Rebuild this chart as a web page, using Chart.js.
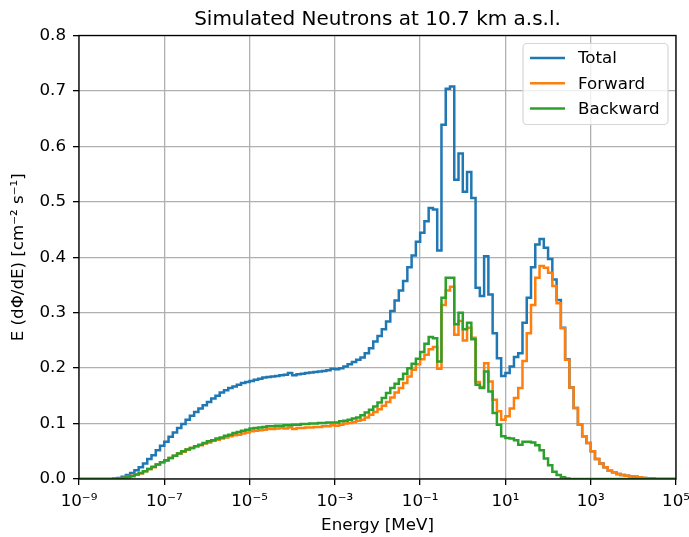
<!DOCTYPE html>
<html>
<head>
<meta charset="utf-8">
<title>Simulated Neutrons</title>
<script src="https://cdn.jsdelivr.net/npm/chart.js@4"></script>
<style>
  html, body { margin: 0; padding: 0; background: #fff; }
  canvas { display: block; }
</style>
</head>
<body>
<canvas id="spectrum" width="689" height="537"></canvas>
<script>
// 10 bins per decade, 1e-9 .. 1e5 MeV
const firstDecade = -9;
const lastDecade = 5;
const binsPerDecade = 10;

// E dPhi/dE per bin [cm^-2 s^-1], one row per decade
const totalFlux = [
    0, 0, 0, 0, 0, 0, 0, 0, 0.001, 0.002,
    0.004, 0.007, 0.011, 0.016, 0.021, 0.028, 0.036, 0.043, 0.052, 0.060,
    0.067, 0.076, 0.084, 0.092, 0.099, 0.107, 0.114, 0.121, 0.127, 0.133,
    0.139, 0.145, 0.150, 0.156, 0.160, 0.164, 0.167, 0.170, 0.173, 0.175,
    0.177, 0.179, 0.181, 0.183, 0.184, 0.185, 0.186, 0.187, 0.188, 0.191,
    0.187, 0.189, 0.190, 0.191, 0.192, 0.193, 0.194, 0.195, 0.196, 0.199,
    0.198, 0.200, 0.203, 0.207, 0.211, 0.215, 0.219, 0.227, 0.236, 0.248,
    0.258, 0.270, 0.284, 0.303, 0.322, 0.340, 0.357, 0.382, 0.403, 0.428,
    0.444, 0.465, 0.489, 0.486, 0.412, 0.639, 0.704, 0.708, 0.540, 0.587,
    0.518, 0.554, 0.507, 0.345, 0.330, 0.402, 0.333, 0.263, 0.218, 0.186,
    0.191, 0.203, 0.220, 0.227, 0.282, 0.327, 0.382, 0.423, 0.433, 0.417,
    0.397, 0.360, 0.323, 0.273, 0.216, 0.165, 0.128, 0.098, 0.077, 0.065,
    0.050, 0.036, 0.028, 0.021, 0.015, 0.012, 0.009, 0.007, 0.006, 0.005,
    0.004, 0.003, 0.002, 0.001, 0.001, 0, 0, 0, 0, 0,
];

const forwardFlux = [
    0, 0, 0, 0, 0, 0, 0, 0, 0, 0.001,
    0.002, 0.004, 0.006, 0.008, 0.010, 0.014, 0.018, 0.021, 0.026, 0.030,
    0.033, 0.038, 0.042, 0.046, 0.049, 0.053, 0.056, 0.059, 0.061, 0.064,
    0.066, 0.069, 0.071, 0.073, 0.075, 0.077, 0.079, 0.080, 0.082, 0.084,
    0.086, 0.087, 0.088, 0.089, 0.090, 0.090, 0.091, 0.092, 0.091, 0.093,
    0.090, 0.092, 0.092, 0.093, 0.093, 0.094, 0.094, 0.095, 0.095, 0.097,
    0.096, 0.098, 0.100, 0.101, 0.103, 0.105, 0.107, 0.111, 0.116, 0.121,
    0.126, 0.132, 0.139, 0.147, 0.156, 0.164, 0.173, 0.185, 0.197, 0.207,
    0.216, 0.224, 0.234, 0.238, 0.199, 0.314, 0.340, 0.347, 0.260, 0.285,
    0.250, 0.273, 0.255, 0.175, 0.166, 0.209, 0.176, 0.143, 0.122, 0.107,
    0.113, 0.127, 0.146, 0.164, 0.213, 0.263, 0.314, 0.363, 0.384, 0.381,
    0.372, 0.348, 0.317, 0.272, 0.215, 0.165, 0.128, 0.098, 0.077, 0.065,
    0.050, 0.036, 0.028, 0.021, 0.015, 0.012, 0.009, 0.007, 0.006, 0.005,
    0.004, 0.003, 0.002, 0.001, 0.001, 0, 0, 0, 0, 0,
];

const backwardFlux = [
    0, 0, 0, 0, 0, 0, 0, 0, 0, 0.001,
    0.002, 0.003, 0.005, 0.008, 0.011, 0.014, 0.018, 0.022, 0.026, 0.030,
    0.034, 0.038, 0.042, 0.046, 0.050, 0.053, 0.056, 0.059, 0.062, 0.065,
    0.068, 0.070, 0.073, 0.075, 0.078, 0.080, 0.083, 0.085, 0.087, 0.089,
    0.091, 0.092, 0.093, 0.094, 0.095, 0.095, 0.096, 0.096, 0.097, 0.097,
    0.098, 0.098, 0.099, 0.099, 0.100, 0.100, 0.101, 0.101, 0.102, 0.102,
    0.102, 0.104, 0.105, 0.107, 0.109, 0.111, 0.115, 0.120, 0.125, 0.131,
    0.138, 0.146, 0.155, 0.164, 0.172, 0.180, 0.190, 0.200, 0.208, 0.217,
    0.229, 0.244, 0.256, 0.254, 0.212, 0.327, 0.363, 0.363, 0.279, 0.300,
    0.270, 0.282, 0.252, 0.170, 0.164, 0.194, 0.158, 0.119, 0.098, 0.077,
    0.074, 0.073, 0.070, 0.062, 0.067, 0.067, 0.066, 0.061, 0.052, 0.037,
    0.025, 0.013, 0.007, 0.003, 0.001, 0, 0, 0, 0, 0,
    0, 0, 0, 0, 0, 0, 0, 0, 0, 0,
    0, 0, 0, 0, 0, 0, 0, 0, 0, 0,
];

const seriesNames = ["Total", "Forward", "Backward"];
const seriesColors = ["#1f77b4", "#ff7f0e", "#2ca02c"];
const xTickExponents = [-9, -7, -5, -3, -1, 1, 3, 5];
const yTicks = [0, 0.1, 0.2, 0.3, 0.4, 0.5, 0.6, 0.7, 0.8];
const chartTitle = "Simulated Neutrons at 10.7 km a.s.l.";

const nBins = (lastDecade - firstDecade) * binsPerDecade;
const binEdges = [];
for (let i = 0; i <= nBins; i++) {
    binEdges.push(Math.pow(10, firstDecade + i / binsPerDecade));
}

// one point per left bin edge, plus the closing right edge
function histPoints(values) {
    const pts = values.map((v, i) => ({ x: binEdges[i], y: v }));
    pts.push({ x: binEdges[nBins], y: values[nBins - 1] });
    return pts;
}

const SUP = { "-": "\u207b", "0": "\u2070", "1": "\u00b9", "2": "\u00b2", "3": "\u00b3",
    "4": "\u2074", "5": "\u2075", "6": "\u2076", "7": "\u2077", "8": "\u2078", "9": "\u2079" };
function powerLabel(exp) {
    return "10" + String(exp).split("").map((c) => SUP[c]).join("");
}

const FONT = "DejaVu Sans";
const FS = 16.7; // 10pt @ 120 dpi
Chart.defaults.font.family = FONT;
Chart.defaults.font.size = FS;
Chart.defaults.color = "#000";

// title centred over the axes, plus all four spines
const frame = {
    id: "frame",
    afterDatasetsDraw(chart) {
        const { ctx, chartArea: a } = chart;
        ctx.save();
        ctx.strokeStyle = "#000";
        ctx.lineWidth = 1.3;
        ctx.strokeRect(a.left, a.top, a.right - a.left, a.bottom - a.top);
        ctx.font = "20px '" + FONT + "'";
        ctx.fillStyle = "#000";
        ctx.textAlign = "center";
        ctx.textBaseline = "middle";
        ctx.fillText(chartTitle, (a.left + a.right) / 2, 19.5);
        ctx.restore();
    },
};

// boxed legend in the upper right corner of the axes
const boxLegend = {
    id: "boxLegend",
    afterDraw(chart) {
        const { ctx, chartArea: a } = chart;
        const w = 145, h = 81;
        const x = a.right - w - 8, y = a.top + 8;
        ctx.save();
        ctx.beginPath();
        ctx.roundRect(x, y, w, h, 4);
        ctx.fillStyle = "rgba(255,255,255,0.8)";
        ctx.fill();
        ctx.strokeStyle = "#d6d6d6";
        ctx.lineWidth = 1.2;
        ctx.stroke();
        ctx.font = FS + "px '" + FONT + "'";
        ctx.textBaseline = "middle";
        chart.data.datasets.forEach((ds, i) => {
            const yy = y + 14.5 + i * 25.3;
            ctx.strokeStyle = ds.borderColor;
            ctx.lineWidth = 2.5;
            ctx.beginPath();
            ctx.moveTo(x + 7, yy);
            ctx.lineTo(x + 42, yy);
            ctx.stroke();
            ctx.fillStyle = "#000";
            ctx.fillText(ds.label, x + 55, yy + 1);
        });
        ctx.restore();
    },
};

const fluxes = [totalFlux, forwardFlux, backwardFlux];

new Chart(document.getElementById("spectrum"), {
    type: "line",
    data: {
        datasets: fluxes.map((vals, i) => ({
            label: seriesNames[i],
            data: histPoints(vals),
            borderColor: seriesColors[i],
            borderWidth: 2.5,
            stepped: "before",
            pointRadius: 0,
            fill: false,
            order: fluxes.length - i, // later series on top
        })),
    },
    options: {
        responsive: false,
        animation: false,
        layout: { padding: { left: 0, right: 13, top: 35.5, bottom: 0 } },
        plugins: {
            legend: { display: false },
            tooltip: { enabled: false },
        },
        scales: {
            x: {
                type: "logarithmic",
                min: Math.pow(10, firstDecade),
                max: Math.pow(10, lastDecade),
                afterBuildTicks(scale) {
                    scale.ticks = xTickExponents.map((e) => ({ value: Math.pow(10, e) }));
                },
                afterFit(scale) {
                    scale.height = 58;
                    scale.paddingLeft = 0;
                    scale.paddingRight = 0;
                },
                ticks: {
                    autoSkip: false,
                    maxRotation: 0,
                    padding: 7,
                    callback: (v) => powerLabel(Math.round(Math.log10(v))),
                },
                grid: { color: "#b0b0b0", lineWidth: 1.3, tickLength: 6, tickColor: "#000", tickWidth: 1.3 },
                border: { display: false },
                title: {
                    display: true,
                    text: "Energy [MeV]",
                    padding: { top: 0, bottom: 1 },
                },
            },
            y: {
                min: yTicks[0],
                max: yTicks[yTicks.length - 1],
                afterBuildTicks(scale) {
                    scale.ticks = yTicks.map((v) => ({ value: v }));
                },
                afterFit(scale) {
                    scale.width = 79;
                    scale.paddingTop = 0;
                    scale.paddingBottom = 0;
                },
                ticks: {
                    padding: 7,
                    callback: (v) => v.toFixed(1),
                },
                grid: { color: "#b0b0b0", lineWidth: 1.3, tickLength: 6, tickColor: "#000", tickWidth: 1.3 },
                border: { display: false },
                title: {
                    display: true,
                    text: "E (d\u03a6/dE) [cm\u207b\u00b2 s\u207b\u00b9]",
                    padding: { top: 9, bottom: 0 },
                },
            },
        },
    },
    plugins: [frame, boxLegend],
});
</script>
</body>
</html>
